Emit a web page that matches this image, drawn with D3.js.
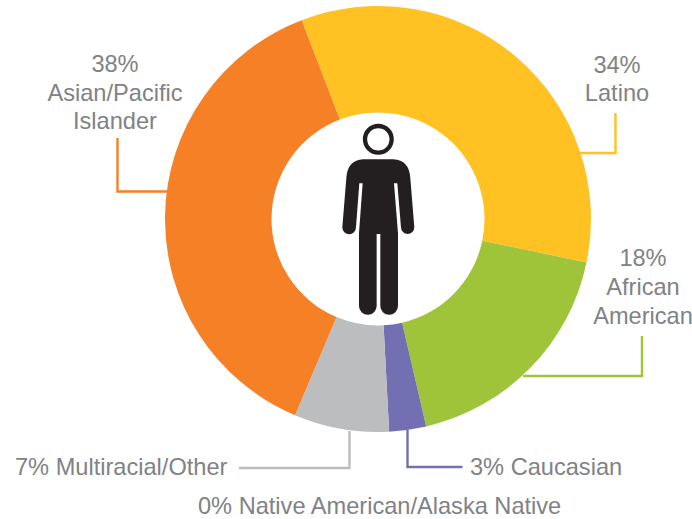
<!DOCTYPE html>
<html>
<head>
<meta charset="utf-8">
<script src="https://cdn.jsdelivr.net/npm/d3@7"></script>
<style>
  html, body { margin: 0; padding: 0; background: #fff; }
  text { font-family: "Liberation Sans", Arial, sans-serif; font-size: 23.6px; fill: #808285; }
</style>
</head>
<body>
<div id="chart"></div>
<script>
const width = 692;
const height = 519;

// data, clockwise from the top of the ring (labels are rounded)
const groups = ["Latino", "African American", "Caucasian", "Native American/Alaska Native", "Multiracial/Other", "Asian/Pacific Islander"];
const shares = [34.1, 18.1, 2.8, 0, 7.2, 37.8];
const colors = ["#ffc222", "#9fc43a", "#736fb3", "#808285", "#bbbdbf", "#f58025"];

const cx = 378, cy = 219;
const outerR = 213, innerR = 106.5;

const svg = d3.select("#chart")
  .append("svg")
  .attr("width", width)
  .attr("height", height);

const pie = d3.pie()
  .sort(null)
  .startAngle(-21 * Math.PI / 180)
  .endAngle(339 * Math.PI / 180);
const arc = d3.arc().innerRadius(innerR).outerRadius(outerR);

const ring = svg.append("g").attr("transform", `translate(${cx},${cy})`);
ring.selectAll("path")
  .data(pie(shares))
  .enter()
  .append("path")
  .attr("d", arc)
  .attr("fill", (d, i) => colors[i]);

// leader lines, one per group that has one
const leaders = [
  { group: 0, pts: [[615.5, 113], [615.5, 153], [580, 153]] },
  { group: 1, pts: [[642, 336], [642, 376], [523, 376]] },
  { group: 2, pts: [[407.5, 430], [407.5, 467], [462.5, 467]] },
  { group: 4, pts: [[349.5, 431], [349.5, 468], [239, 468]] },
  { group: 5, pts: [[117.5, 138], [117.5, 191.5], [167, 191.5]] }
];
const line = d3.line();
svg.selectAll(".leader")
  .data(leaders)
  .enter()
  .append("path")
  .attr("class", "leader")
  .attr("d", d => line(d.pts))
  .attr("fill", "none")
  .attr("stroke", d => colors[d.group])
  .attr("stroke-width", 2.4);

// labels
const labels = [
  { x: 617, y: 73, anchor: "middle", lines: ["34%", "Latino"], dy: 28 },
  { x: 643, y: 266, anchor: "middle", lines: ["18%", "African", "American"], dy: 29 },
  { x: 115, y: 72, anchor: "middle", lines: ["38%", "Asian/Pacific", "Islander"], dy: 28.5 },
  { x: 15, y: 475, anchor: "start", lines: ["7% Multiracial/Other"], dy: 0 },
  { x: 470, y: 475, anchor: "start", lines: ["3% Caucasian"], dy: 0 },
  { x: 198, y: 513.5, anchor: "start", lines: ["0% Native American/Alaska Native"], dy: 0 }
];
labels.forEach(l => {
  const t = svg.append("text").attr("text-anchor", l.anchor);
  l.lines.forEach((s, i) => {
    t.append("tspan").attr("x", l.x).attr("y", l.y + i * l.dy).text(s);
  });
});

// person icon in the middle of the ring
const person = svg.append("g").attr("transform", "translate(250,110) scale(0.3333)");
person.append("circle")
  .attr("cx", 385).attr("cy", 88).attr("r", 40)
  .attr("fill", "#fff").attr("stroke", "#231f20").attr("stroke-width", 13);
person.append("path")
  .attr("fill", "#231f20")
  .attr("d", "M340 148H430Q478 150 481 205L493 352A20 20 0 0 1 453 352L442 220H432L444 370V588A26.5 26.5 0 0 1 391 588V372H380V588A26.5 26.5 0 0 1 327 588V370L338 220H328L318 352A20 20 0 0 1 277 352L289 205Q292 150 340 148Z");
</script>
</body>
</html>
